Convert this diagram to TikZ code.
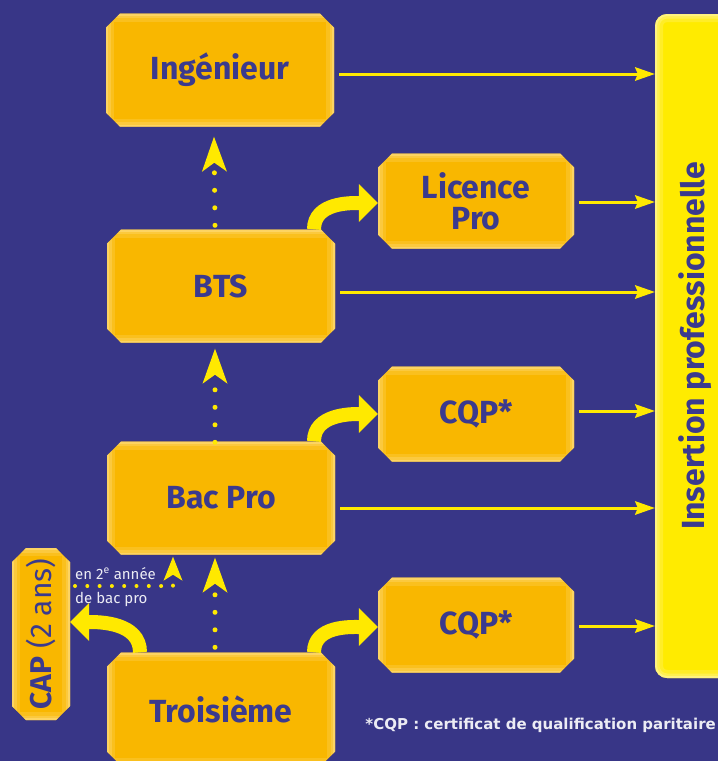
\documentclass[tikz,border=0pt]{standalone}
\usepackage{fontspec}
\setmainfont{Fira Sans}
\newfontfamily\notefont{DejaVu Sans}
\usetikzlibrary{shapes.misc,arrows.meta}

\definecolor{bgblue}{HTML}{383687}
\definecolor{boxorange}{HTML}{F9B700}
\definecolor{boxglow}{HTML}{FFDC7A}
\definecolor{insyellow}{HTML}{FFEB00}
\definecolor{insglow}{HTML}{FFF6A0}
\definecolor{arrowyellow}{HTML}{FFE900}
\definecolor{textblue}{HTML}{3B3A8E}
\definecolor{notewhite}{HTML}{ECECF4}

\tikzset{
  glow/.style={path picture={
      \foreach \w/\o in {16/0.25,9/0.35,4/0.6}
        \draw[#1, opacity=\o, line width=\w pt]
          (path picture bounding box.south west) rectangle (path picture bounding box.north east);}},
  stage/.style={chamfered rectangle, chamfered rectangle sep=7pt, fill=boxorange,
    inner sep=0pt, minimum width=228pt, minimum height=113pt, text=textblue,
    font=\fontsize{32}{32}\selectfont\bfseries, align=center, glow=boxglow},
  smallstage/.style={stage, minimum width=196pt, minimum height=95pt},
  outarrow/.style={draw=arrowyellow, line width=3pt, shorten <=5pt,
    -{Stealth[length=20pt,width=14pt,inset=3pt,line width=0pt]}},
  dotarrow/.style={draw=arrowyellow, line width=5pt, line cap=round,
    dash pattern=on 0pt off 17.5pt,
    -{Stealth[length=35pt,width=25pt,inset=9pt,line width=0pt]}},
  bendarrow/.style={draw=arrowyellow, line width=14pt,
    -{Triangle[length=19pt,width=38pt,line width=0pt]}},
  smalldots/.style={draw=arrowyellow, line width=4pt, line cap=round,
    dash pattern=on 0pt off 12.3pt,
    -{Stealth[length=24pt,width=19pt,inset=6pt,line width=0pt]}}
}

\begin{document}
\begin{tikzpicture}[x=1pt,y=1pt]
  \fill[bgblue] (0,0) rectangle (718,-761);
  \useasboundingbox (0,0) rectangle (718,-761);
  \clip (0,0) rectangle (718,-761);

  % training stages
  \node[stage] (ing) at (220,-70) {Ingénieur};
  \node[stage] (bts) at (221,-286) {BTS};
  \node[stage] (bac) at (221,-498) {Bac Pro};
  \node[stage] (trois) at (221,-709) {Troisième};
  \node[smallstage, font=\fontsize{32}{31}\selectfont\bfseries] (lic) at (476,-201) {Licence\\Pro};
  \node[smallstage] (cqpa) at (476,-414) {CQP*};
  \node[smallstage] (cqpb) at (476,-625) {CQP*};
  \node[stage, rotate=90, minimum width=172pt, minimum height=58pt,
    font=\fontsize{30}{30}\selectfont] (cap) at (41,-634) {\textbf{CAP} (2 ans)};
  \node[rotate=90, rounded corners=12pt, fill=insyellow, glow=insglow,
    minimum width=664pt, minimum height=80pt, inner sep=0pt, text=textblue,
    font=\fontsize{32}{32}\selectfont\bfseries] (ins) at (695,-346) {Insertion professionnelle};
  \node[anchor=base east, text=notewhite, inner sep=1pt, font=\notefont\fontsize{15}{15}\selectfont\bfseries]
    (note) at (717,-729) {*CQP : certificat de qualification paritaire};

  % passage en 2e annee
  \node[anchor=base west, text=notewhite, inner sep=0pt, font=\fontsize{15}{15}\selectfont]
    (yr) at (75,-579) {en 2\textsuperscript{e} année};
  \node[anchor=base west, text=notewhite, inner sep=0pt, font=\fontsize{15}{15}\selectfont]
    (bp) at (75,-603) {de bac pro};
  \coordinate (turn) at (173,-586);
  \draw[smalldots] (yr.west |- turn) -- (turn) -- ([xshift=-48pt,yshift=-2pt]bac.south);

  % vers l'insertion
  \draw[outarrow] ([yshift=-4pt]ing.east) -- ([yshift=-4pt]ing.east -| ins.north);
  \draw[outarrow] ([yshift=-6pt]bts.east) -- ([yshift=-6pt]bts.east -| ins.north);
  \draw[outarrow] ([yshift=-10pt]bac.east) -- ([yshift=-10pt]bac.east -| ins.north);
  \draw[outarrow] ([yshift=-1pt]lic.east) -- ([yshift=-1pt]lic.east -| ins.north);
  \draw[outarrow] ([yshift=3pt]cqpa.east) -- ([yshift=3pt]cqpa.east -| ins.north);
  \draw[outarrow] ([yshift=-1pt]cqpb.east) -- ([yshift=-1pt]cqpb.east -| ins.north);

  % poursuite d'etudes
  \draw[dotarrow] ([xshift=-6pt,yshift=4pt]bts.north) -- ([xshift=-6pt,yshift=-10pt]ing.south);
  \draw[dotarrow] ([xshift=-6pt,yshift=-1pt]bac.north) -- ([xshift=-6pt,yshift=-6pt]bts.south);
  \draw[dotarrow] ([xshift=-6pt,yshift=5pt]trois.north) -- ([xshift=-6pt,yshift=-3pt]bac.south);

  % specialisations
  \draw[bendarrow] ([xshift=93pt]bts.north) to[out=90,in=180] ([yshift=-2pt]lic.west);
  \draw[bendarrow] ([xshift=93pt]bac.north) to[out=90,in=180] (cqpa.west);
  \draw[bendarrow] ([xshift=93pt]trois.north) to[out=90,in=180] ([yshift=-2pt]cqpb.west);
  \draw[bendarrow] ([xshift=-81pt]trois.north) to[out=90,in=0] ([yshift=12pt]cap.south);
\end{tikzpicture}
\end{document}
